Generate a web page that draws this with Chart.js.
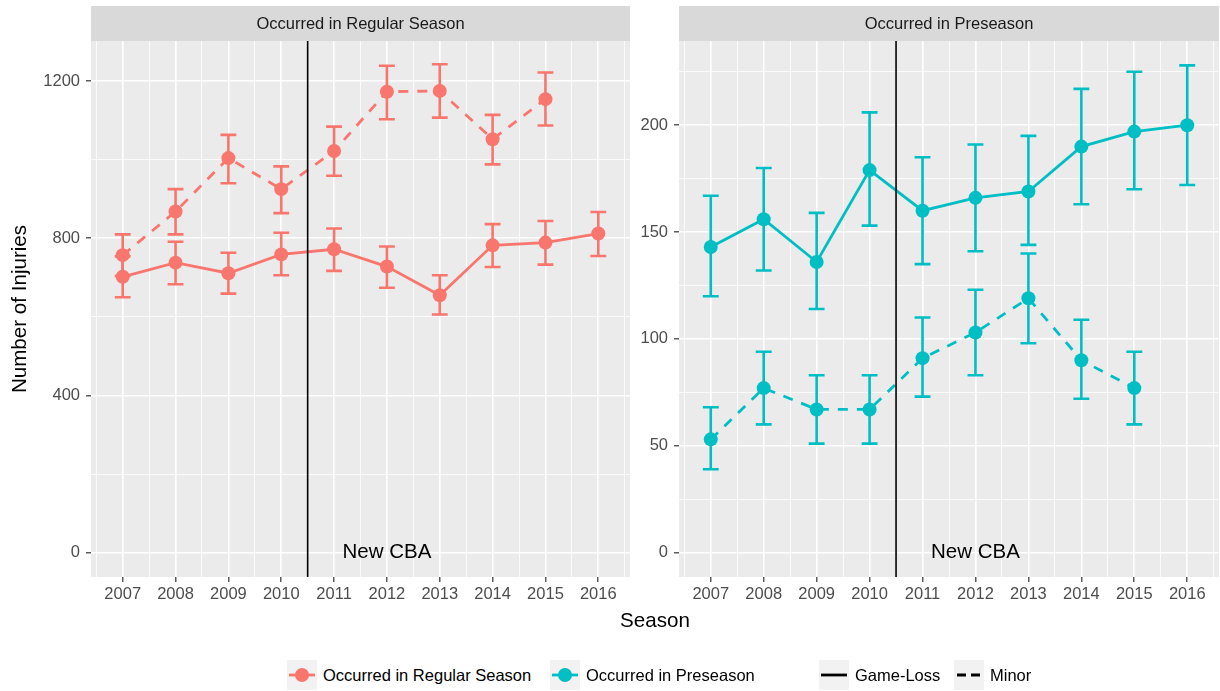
<!DOCTYPE html>
<html>
<head>
<meta charset="utf-8">
<script src="https://cdn.jsdelivr.net/npm/chart.js@4.4.0/dist/chart.umd.min.js"></script>
<style>
  body { margin: 0; background: #fff; font-family: 'Liberation Sans', Arial, sans-serif; }
  #wrap { position: relative; width: 1220px; height: 691px; overflow: hidden; }
  canvas { position: absolute; top: 0; }
  #regChart { left: 0; }
  #preChart { left: 640px; }
  #xtitle { position: absolute; left: 655px; top: 608px; transform: translateX(-50%); font-size: 20.6px; line-height: 24px; color: #000; }
  .lg { position: absolute; top: 665px; font-size: 16.5px; line-height: 20px; color: #000; white-space: nowrap; }
  .key { position: absolute; top: 660px; }
</style>
</head>
<body>
<div id="wrap">
  <canvas id="regChart" width="631" height="640"></canvas>
  <canvas id="preChart" width="580" height="640"></canvas>
  <div id="xtitle">Season</div>
  <div id="legend"></div>
</div>
<script>
const FONT = "'Liberation Sans', Arial, sans-serif";

const seasons = [2007, 2008, 2009, 2010, 2011, 2012, 2013, 2014, 2015, 2016];
const minorSeasons = [2007, 2008, 2009, 2010, 2011, 2012, 2013, 2014, 2015];

// Occurred in Regular Season
const regGameLoss   = [702, 738, 711, 759, 772, 728, 655, 782, 789, 812];
const regGameLossLo = [650, 683, 659, 706, 717, 674, 606, 727, 733, 755];
const regGameLossHi = [754, 791, 763, 814, 825, 779, 706, 836, 844, 867];
const regMinor   = [757, 868, 1004, 925, 1022, 1173, 1175, 1052, 1154];
const regMinorLo = [704, 810, 940, 864, 959, 1103, 1107, 988, 1087];
const regMinorHi = [810, 925, 1063, 983, 1084, 1239, 1243, 1114, 1222];

// Occurred in Preseason
const preGameLoss   = [143, 156, 136, 179, 160, 166, 169, 190, 197, 200];
const preGameLossLo = [120, 132, 114, 153, 135, 141, 144, 163, 170, 172];
const preGameLossHi = [167, 180, 159, 206, 185, 191, 195, 217, 225, 228];
const preMinor   = [53, 77, 67, 67, 91, 103, 119, 90, 77];
const preMinorLo = [39, 60, 51, 51, 73, 83, 98, 72, 60];
const preMinorHi = [68, 94, 83, 83, 110, 123, 140, 109, 94];

const regTicks = [0, 400, 800, 1200];
const preTicks = [0, 50, 100, 150, 200];

const cbaStart = 2010.5;
const cbaLabel = { x: 2012, y: 0, text: 'New CBA' };

const RED = '#F8766D';
const TEAL = '#00BFC4';

// majors plus the half-way minor lines, like ggplot
function withMinor(majors, min, max) {
    const half = (majors[1] - majors[0]) / 2;
    const out = [];
    let v = majors[0];
    while (v - half >= min) v -= half;
    for (; v <= max; v += half) out.push(v);
    return out;
}

function points(xs, ys) {
    return xs.map((x, i) => ({ x: x, y: ys[i] }));
}

const errorBars = {
    id: 'errorBars',
    beforeDatasetsDraw(chart) {
        const { ctx, scales: { x, y } } = chart;
        ctx.save();
        chart.data.datasets.forEach(ds => {
            ctx.strokeStyle = ds.borderColor;
            ctx.lineWidth = 2.6;
            ds.data.forEach((p, i) => {
                const px = x.getPixelForValue(p.x);
                const x0 = x.getPixelForValue(p.x - 0.15);
                const x1 = x.getPixelForValue(p.x + 0.15);
                const lo = y.getPixelForValue(ds.errLo[i]);
                const hi = y.getPixelForValue(ds.errHi[i]);
                ctx.beginPath();
                ctx.moveTo(px, lo); ctx.lineTo(px, hi);
                ctx.moveTo(x0, lo); ctx.lineTo(x1, lo);
                ctx.moveTo(x0, hi); ctx.lineTo(x1, hi);
                ctx.stroke();
            });
        });
        ctx.restore();
    }
};

function panelDecor(stripText) {
    return {
        id: 'panelDecor',
        beforeDraw(chart) {
            const { ctx, chartArea: a } = chart;
            ctx.save();
            ctx.fillStyle = '#D9D9D9';
            ctx.fillRect(a.left, 6, a.right - a.left, a.top - 6);
            ctx.fillStyle = '#EBEBEB';
            ctx.fillRect(a.left, a.top, a.right - a.left, a.bottom - a.top);
            ctx.fillStyle = '#1A1A1A';
            ctx.font = '16.5px ' + FONT;
            ctx.textAlign = 'center';
            ctx.textBaseline = 'middle';
            ctx.fillText(stripText, (a.left + a.right) / 2, (6 + a.top) / 2 + 1);
            ctx.restore();
        },
        afterDatasetsDraw(chart) {
            const { ctx, chartArea: a, scales: { x, y } } = chart;
            ctx.save();
            const vx = x.getPixelForValue(cbaStart);
            ctx.strokeStyle = '#000';
            ctx.lineWidth = 1.6;
            ctx.beginPath();
            ctx.moveTo(vx, a.top);
            ctx.lineTo(vx, a.bottom);
            ctx.stroke();
            ctx.fillStyle = '#000';
            ctx.font = '20.5px ' + FONT;
            ctx.textAlign = 'center';
            ctx.textBaseline = 'middle';
            ctx.fillText(cbaLabel.text, x.getPixelForValue(cbaLabel.x), y.getPixelForValue(cbaLabel.y));
            ctx.restore();
        }
    };
}

function makePanel(id, p) {
    const xAll = withMinor(seasons, 2006.4, 2016.6);
    const yAll = withMinor(p.yTicks, p.yMin, p.yMax);
    const majorX = v => seasons.includes(v);
    const majorY = v => p.yTicks.includes(v);

    const line = (label, xs, ys, lo, hi, dash) => ({
        label: label,
        data: points(xs, ys),
        errLo: lo,
        errHi: hi,
        borderColor: p.color,
        backgroundColor: p.color,
        pointBackgroundColor: p.color,
        pointBorderWidth: 0,
        pointRadius: 7,
        borderWidth: 2.8,
        borderDash: dash,
        tension: 0
    });

    return new Chart(document.getElementById(id), {
        type: 'line',
        data: {
            datasets: [
                line('Game-Loss', seasons, p.gameLoss, p.gameLossLo, p.gameLossHi, []),
                line('Minor', minorSeasons, p.minor, p.minorLo, p.minorHi, [10, 9])
            ]
        },
        options: {
            responsive: false,
            animation: false,
            layout: { autoPadding: false, padding: { top: 41, right: 1, left: 0, bottom: 33 } },
            plugins: { legend: { display: false }, tooltip: { enabled: false } },
            scales: {
                x: {
                    type: 'linear',
                    min: 2006.4,
                    max: 2016.6,
                    afterBuildTicks: s => { s.ticks = xAll.map(v => ({ value: v })); },
                    afterFit: s => { s.height = 30; s.paddingLeft = 0; s.paddingRight = 0; },
                    border: { display: false },
                    grid: {
                        color: '#FFFFFF',
                        lineWidth: c => majorX(c.tick.value) ? 1.6 : 0.8,
                        tickLength: 5,
                        tickColor: c => majorX(c.tick.value) ? '#333333' : 'rgba(0,0,0,0)',
                        tickWidth: 1.2
                    },
                    ticks: {
                        autoSkip: false,
                        maxRotation: 0,
                        minRotation: 0,
                        padding: 3,
                        color: '#4D4D4D',
                        font: { family: FONT, size: 16.5 },
                        callback: v => majorX(v) ? String(v) : ''
                    }
                },
                y: {
                    min: p.yMin,
                    max: p.yMax,
                    afterBuildTicks: s => { s.ticks = yAll.map(v => ({ value: v })); },
                    afterFit: s => { s.width = p.yWidth; s.paddingTop = 0; s.paddingBottom = 0; },
                    border: { display: false },
                    grid: {
                        color: '#FFFFFF',
                        lineWidth: c => majorY(c.tick.value) ? 1.6 : 0.8,
                        tickLength: 5,
                        tickColor: c => majorY(c.tick.value) ? '#333333' : 'rgba(0,0,0,0)',
                        tickWidth: 1.2
                    },
                    ticks: {
                        autoSkip: false,
                        padding: 6,
                        color: '#4D4D4D',
                        font: { family: FONT, size: 16.5 },
                        callback: v => majorY(v) ? String(v) : ''
                    },
                    title: {
                        display: p.yTitle !== '',
                        text: p.yTitle,
                        color: '#000',
                        font: { family: FONT, size: 20.6 },
                        padding: { top: 8, bottom: 0 }
                    }
                }
            }
        },
        plugins: [errorBars, panelDecor(p.strip)]
    });
}

makePanel('regChart', {
    strip: 'Occurred in Regular Season',
    color: RED,
    yTicks: regTicks, yMin: -62, yMax: 1302, yWidth: 91,
    yTitle: 'Number of Injuries',
    gameLoss: regGameLoss, gameLossLo: regGameLossLo, gameLossHi: regGameLossHi,
    minor: regMinor, minorLo: regMinorLo, minorHi: regMinorHi
});

makePanel('preChart', {
    strip: 'Occurred in Preseason',
    color: TEAL,
    yTicks: preTicks, yMin: -11.4, yMax: 239.4, yWidth: 39,
    yTitle: '',
    gameLoss: preGameLoss, gameLossLo: preGameLossLo, gameLossHi: preGameLossHi,
    minor: preMinor, minorLo: preMinorLo, minorHi: preMinorHi
});

// legend along the bottom
const legendItems = [
    { kind: 'point', color: RED, text: 'Occurred in Regular Season', left: 287 },
    { kind: 'point', color: TEAL, text: 'Occurred in Preseason', left: 550 },
    { kind: 'solid', color: '#000', text: 'Game-Loss', left: 819 },
    { kind: 'dash', color: '#000', text: 'Minor', left: 954 }
];

const legend = document.getElementById('legend');
legendItems.forEach(item => {
    const c = document.createElement('canvas');
    c.width = 30; c.height = 30;
    c.className = 'key';
    c.style.left = item.left + 'px';
    legend.appendChild(c);
    const g = c.getContext('2d');
    g.fillStyle = '#F2F2F2';
    g.fillRect(0, 0, 30, 30);
    g.strokeStyle = item.color;
    g.lineWidth = 2.8;
    g.beginPath();
    if (item.kind === 'dash') {
        g.setLineDash([9, 5]);
        g.moveTo(3, 15); g.lineTo(26, 15);
    } else {
        g.moveTo(2, 15); g.lineTo(28, 15);
    }
    g.stroke();
    if (item.kind === 'point') {
        g.fillStyle = item.color;
        g.beginPath();
        g.arc(15, 15, 7, 0, Math.PI * 2);
        g.fill();
    }
    const t = document.createElement('div');
    t.className = 'lg';
    t.style.left = (item.left + 36) + 'px';
    t.textContent = item.text;
    legend.appendChild(t);
});
</script>
</body>
</html>
